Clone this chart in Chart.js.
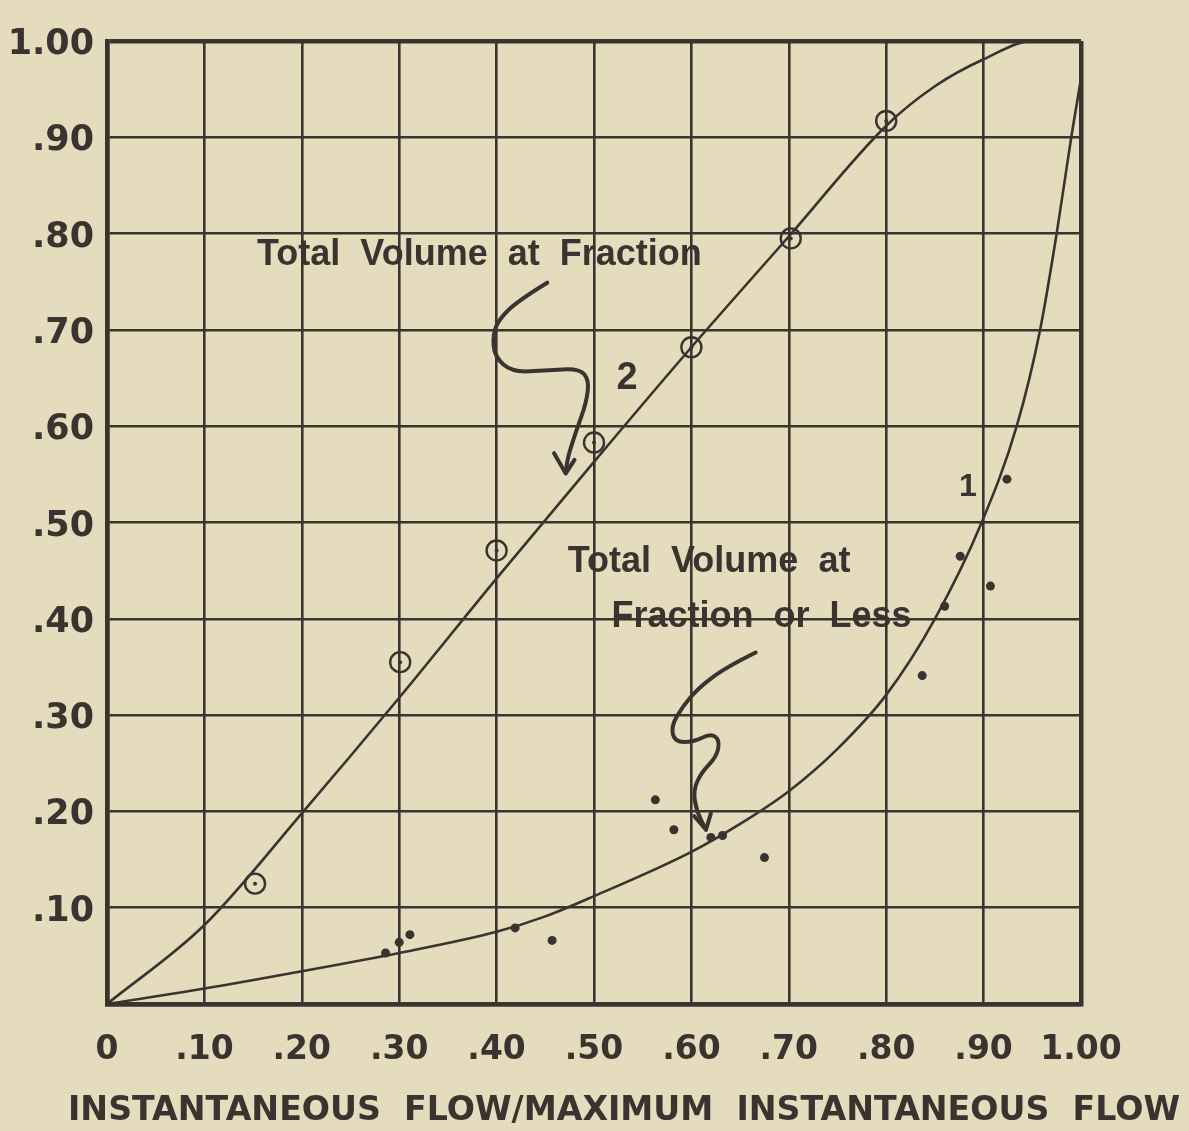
<!DOCTYPE html>
<html>
<head>
<meta charset="utf-8">
<script src="https://cdn.jsdelivr.net/npm/chart.js@4.4.0/dist/chart.umd.min.js"></script>
<style>
  html, body { margin: 0; padding: 0; background: #e5dcbd; }
  #wrap { width: 1189px; height: 1131px; position: relative; }
</style>
</head>
<body>
<div id="wrap"><canvas id="myChart"></canvas></div>
<script>
// tick labels (0 .. 1.00 in steps of .10)
const xTickLabels = ['0', '.10', '.20', '.30', '.40', '.50', '.60', '.70', '.80', '.90', '1.00'];
const yTickLabels = ['', '.10', '.20', '.30', '.40', '.50', '.60', '.70', '.80', '.90', '1.00'];

// curve 1 : total volume at fraction or less
const curve1X = [0, 0.1, 0.2, 0.3, 0.4, 0.45, 0.5, 0.6, 0.65, 0.7, 0.75, 0.8, 0.85, 0.898, 0.934, 0.958, 0.975, 0.99, 0.999];
const curve1Y = [0, 0.016, 0.034, 0.053, 0.075, 0.091, 0.112, 0.158, 0.187, 0.221, 0.265, 0.321, 0.4, 0.5, 0.6, 0.7, 0.8, 0.9, 0.955];
const dotsX = [0.286, 0.300, 0.311, 0.419, 0.457, 0.563, 0.582, 0.620, 0.632, 0.675, 0.837, 0.860, 0.876, 0.907, 0.924];
const dotsY = [0.053, 0.064, 0.072, 0.079, 0.066, 0.212, 0.181, 0.173, 0.175, 0.152, 0.341, 0.413, 0.465, 0.434, 0.545];

// curve 2 : total volume at fraction
const curve2X = [0, 0.1, 0.2, 0.3, 0.4, 0.5, 0.6, 0.7, 0.8, 0.85, 0.9, 0.951, 1.0];
const curve2Y = [0, 0.082, 0.198, 0.318, 0.442, 0.563, 0.682, 0.797, 0.912, 0.953, 0.981, 1.0, 1.0];
const circlesX = [0.152, 0.301, 0.400, 0.500, 0.600, 0.702, 0.800];
const circlesY = [0.125, 0.355, 0.471, 0.583, 0.682, 0.795, 0.917];

// hand drawn arrows (data units)
const arrowTop = [[0.452, 0.749], [0.423, 0.731], [0.403, 0.712], [0.396, 0.695], [0.398, 0.672], [0.416, 0.656],
  [0.451, 0.658], [0.485, 0.660], [0.495, 0.648], [0.492, 0.624], [0.482, 0.596], [0.473, 0.568], [0.471, 0.551]];
const arrowTopHead = [[0.459, 0.572], [0.471, 0.551], [0.480, 0.565]];
const arrowBottom = [[0.666, 0.365], [0.636, 0.350], [0.608, 0.329], [0.591, 0.309], [0.579, 0.288], [0.583, 0.272],
  [0.602, 0.272], [0.620, 0.281], [0.629, 0.274], [0.626, 0.257], [0.610, 0.240], [0.602, 0.222], [0.605, 0.201], [0.615, 0.181]];
const arrowBottomHead = [[0.603, 0.195], [0.615, 0.181], [0.620, 0.198]];

const paper = '#e5dcbd';
const ink = '#3b3330';

const toXY = (xs, ys) => xs.map((v, i) => ({ x: v, y: ys[i] }));

const notes = [
  { text: 'Total  Volume  at  Fraction', x: 0.154, y: 0.778, font: 'bold 36px "Liberation Sans"', align: 'left' },
  { text: '2', x: 0.534, y: 0.650, font: 'bold 38px "Liberation Sans"', align: 'center' },
  { text: '1', x: 0.884, y: 0.537, font: 'bold 32px "Liberation Sans"', align: 'center' },
  { text: 'Total  Volume  at', x: 0.473, y: 0.459, font: 'bold 36px "Liberation Sans"', align: 'left' },
  { text: 'Fraction  or  Less', x: 0.518, y: 0.402, font: 'bold 36px "Liberation Sans"', align: 'left' }
];

function smoothPath(ctx, pts) {
  ctx.beginPath();
  ctx.moveTo(pts[0][0], pts[0][1]);
  for (let i = 1; i < pts.length - 1; i++) {
    const mx = (pts[i][0] + pts[i + 1][0]) / 2;
    const my = (pts[i][1] + pts[i + 1][1]) / 2;
    ctx.quadraticCurveTo(pts[i][0], pts[i][1], mx, my);
  }
  const last = pts[pts.length - 1];
  ctx.lineTo(last[0], last[1]);
  ctx.stroke();
}

const paperPlugin = {
  id: 'paper',
  beforeDraw(chart) {
    const c = chart.ctx;
    c.save();
    c.fillStyle = paper;
    c.fillRect(0, 0, chart.width, chart.height);
    c.restore();
  },
  afterDatasetsDraw(chart) {
    const { ctx, scales: { x, y } } = chart;
    const px = p => [x.getPixelForValue(p[0]), y.getPixelForValue(p[1])];
    ctx.save();
    ctx.fillStyle = ink;
    ctx.strokeStyle = ink;
    ctx.textBaseline = 'middle';
    notes.forEach(n => {
      ctx.font = n.font;
      ctx.textAlign = n.align;
      ctx.fillText(n.text, x.getPixelForValue(n.x), y.getPixelForValue(n.y));
    });
    ctx.lineWidth = 4;
    ctx.lineCap = 'round';
    ctx.lineJoin = 'round';
    smoothPath(ctx, arrowTop.map(px));
    smoothPath(ctx, arrowBottom.map(px));
    [arrowTopHead, arrowBottomHead].forEach(h => {
      const p = h.map(px);
      ctx.beginPath();
      ctx.moveTo(p[0][0], p[0][1]);
      ctx.lineTo(p[1][0], p[1][1]);
      ctx.lineTo(p[2][0], p[2][1]);
      ctx.stroke();
    });
    // x axis title
    const title = 'INSTANTANEOUS  FLOW/MAXIMUM  INSTANTANEOUS  FLOW';
    ctx.font = 'bold 34px "DejaVu Sans"';
    ctx.textAlign = 'left';
    const w = ctx.measureText(title).width;
    ctx.translate(68, 1111);
    ctx.scale(1112 / w, 1);
    ctx.fillText(title, 0, 0);
    ctx.restore();
  }
};

const gridWidth = c => {
  const v = c.tick ? Math.round(c.tick.value * 10) : -1;
  return (v === 0 || v === 10) ? 4.5 : 2.6;
};

const config = {
  type: 'scatter',
  data: {
    datasets: [
      { label: 'Curve 1', data: toXY(curve1X, curve1Y), showLine: true, borderColor: ink, borderWidth: 2.6,
        pointRadius: 0, cubicInterpolationMode: 'monotone', fill: false },
      { label: 'Curve 2', data: toXY(curve2X, curve2Y), showLine: true, borderColor: ink, borderWidth: 2.6,
        pointRadius: 0, cubicInterpolationMode: 'monotone', fill: false },
      { label: 'Curve 1 points', data: toXY(dotsX, dotsY), pointRadius: 4.5, backgroundColor: ink, borderWidth: 0 },
      { label: 'Curve 2 points', data: toXY(circlesX, circlesY), pointRadius: 10, backgroundColor: 'rgba(0,0,0,0)',
        borderColor: ink, borderWidth: 2.4 },
      { label: 'Curve 2 centres', data: toXY(circlesX, circlesY), pointRadius: 2, backgroundColor: ink, borderWidth: 0 }
    ]
  },
  options: {
    responsive: true,
    maintainAspectRatio: false,
    animation: false,
    layout: { padding: { top: 41, right: 108, left: 0, bottom: 0 } },
    plugins: { legend: { display: false }, tooltip: { enabled: false } },
    scales: {
      x: {
        type: 'linear', min: 0, max: 1,
        afterFit: s => { s.height = 127; },
        ticks: { stepSize: 0.1, color: ink, padding: 27, maxRotation: 0,
          font: { family: 'DejaVu Sans', size: 33, weight: 'bold' },
          callback: v => xTickLabels[Math.round(v * 10)] },
        grid: { color: ink, lineWidth: gridWidth, drawTicks: false },
        border: { color: ink, width: 4.5 }
      },
      y: {
        type: 'linear', min: 0, max: 1,
        afterFit: s => { s.width = 107; },
        ticks: { stepSize: 0.1, color: ink, padding: 13, labelOffset: 4,
          font: { family: 'DejaVu Sans', size: 35, weight: 'bold' },
          callback: v => yTickLabels[Math.round(v * 10)] },
        grid: { color: ink, lineWidth: gridWidth, drawTicks: false },
        border: { color: ink, width: 4.5 }
      }
    }
  },
  plugins: [paperPlugin]
};

new Chart(document.getElementById('myChart'), config);
</script>
</body>
</html>
